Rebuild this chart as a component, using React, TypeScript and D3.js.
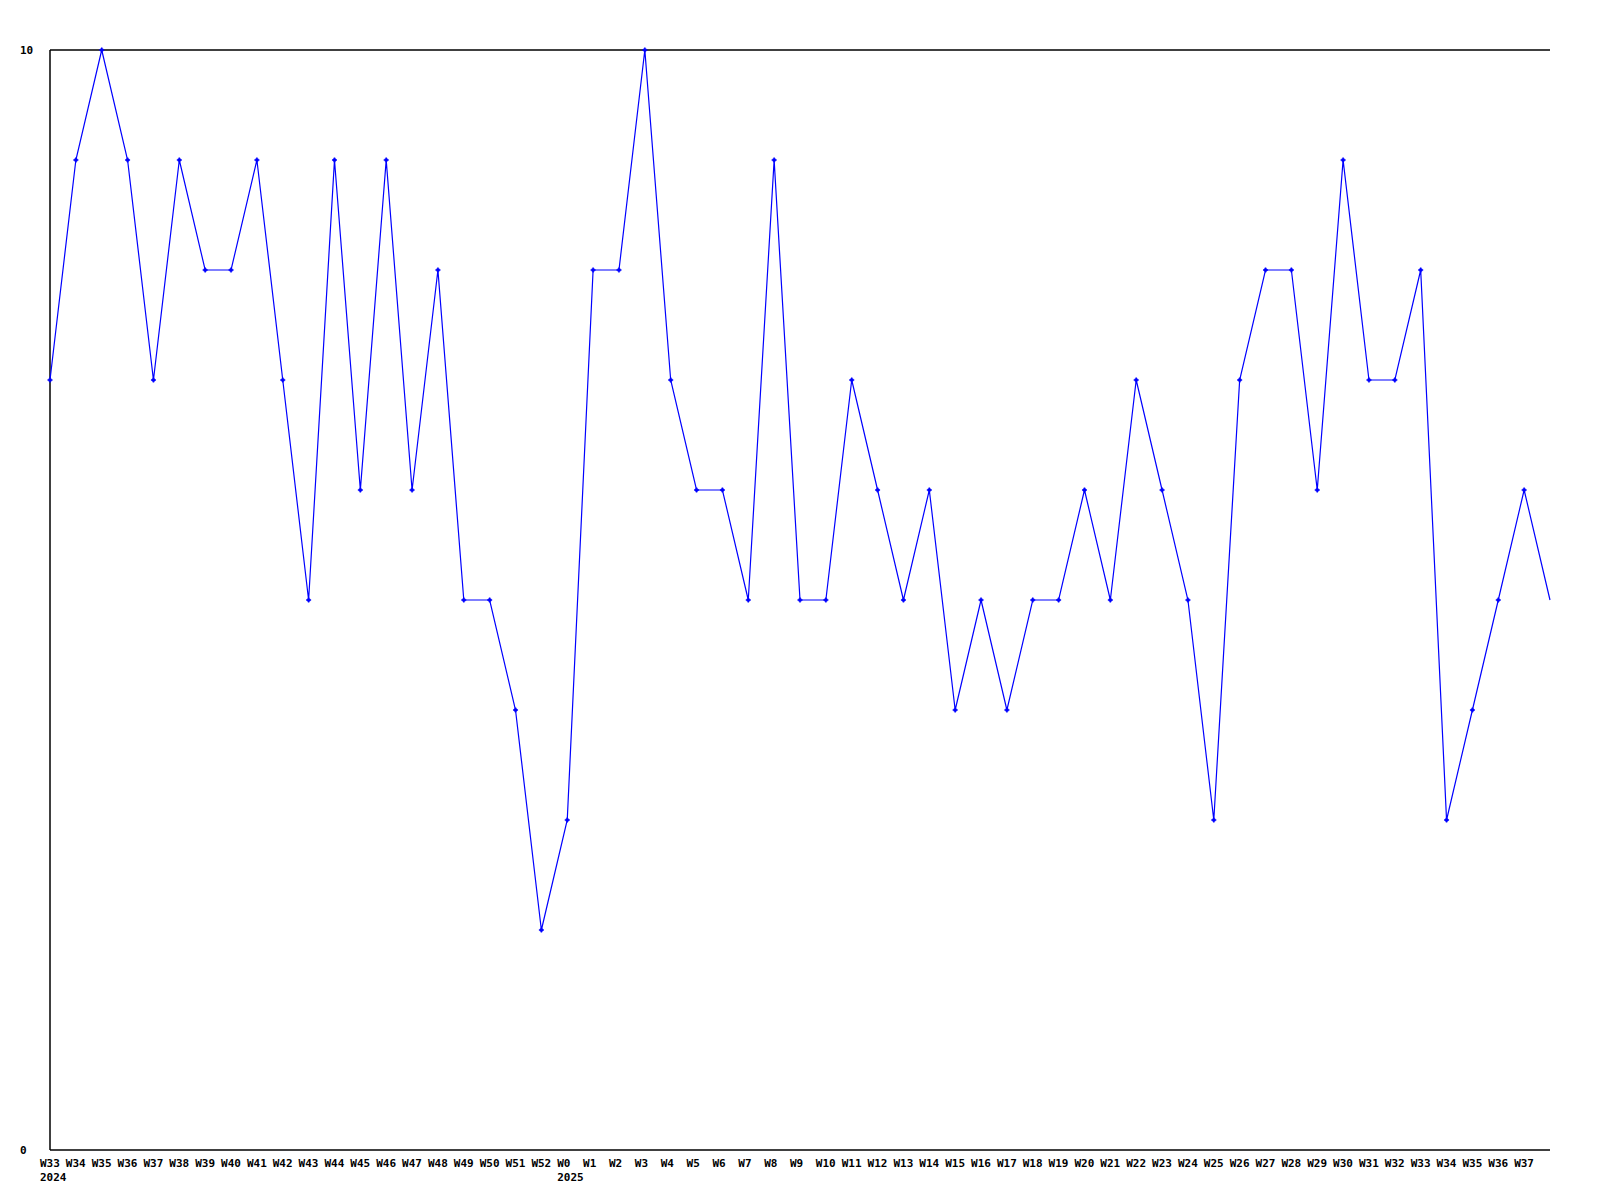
import React from "react";
import * as d3 from "d3";

const weekLabels: string[] = [
  "W33","W34","W35","W36","W37","W38","W39","W40","W41","W42","W43","W44","W45","W46","W47","W48","W49","W50","W51","W52",
  "W0","W1","W2","W3","W4","W5","W6","W7","W8","W9","W10","W11","W12","W13","W14","W15","W16","W17","W18","W19",
  "W20","W21","W22","W23","W24","W25","W26","W27","W28","W29","W30","W31","W32","W33","W34","W35","W36","W37",
];
const yearLabels: { index: number; label: string }[] = [
  { index: 0, label: "2024" },
  { index: 20, label: "2025" },
];
// 58 labelled weeks plus one trailing point at the right edge
const values: number[] = [
  7, 9, 10, 9, 7, 9, 8, 8, 9, 7, 5, 9, 6, 9, 6, 8, 5, 5, 4, 2,
  3, 8, 8, 10, 7, 6, 6, 5, 9, 5, 5, 7, 6, 5, 6, 4, 5, 4, 5, 5,
  6, 5, 7, 6, 5, 3, 7, 8, 8, 6, 9, 7, 7, 8, 3, 4, 5, 6, 5,
];
const yTicks: number[] = [0, 10];

export default function App() {
  const W = 1600, H = 1200;
  const left = 50, right = 1550, top = 50, bottom = 1150;
  const x = d3.scaleLinear().domain([0, values.length - 1]).range([left, right]);
  const y = d3.scaleLinear().domain([0, 10]).range([bottom, top]);
  const line = d3.line<number>().x((_, i) => x(i)).y((d) => y(d));
  const font = "'DejaVu Sans Mono', monospace";
  return (
    <svg width={W} height={H} style={{ position: "absolute", left: 0, top: 0, background: "#fff" }}>
      <rect x={0} y={0} width={W} height={H} fill="#fff" />
      {/* frame */}
      <line x1={left} x2={right} y1={top} y2={top} stroke="#000" strokeWidth={1.5} />
      <line x1={left} x2={left} y1={top} y2={bottom} stroke="#000" strokeWidth={1.5} />
      <line x1={left} x2={right} y1={bottom} y2={bottom} stroke="#000" strokeWidth={1.5} />
      {yTicks.map((t) => (
        <text key={t} x={20} y={y(t)} dy="0.35em" fontFamily={font} fontWeight="bold" fontSize={11} fill="#000">
          {t}
        </text>
      ))}
      <path d={line(values) || ""} fill="none" stroke="#0000ff" strokeWidth={1.2} />
      {values.slice(0, weekLabels.length).map((v, i) => (
        <g key={i} transform={`translate(${x(i)},${y(v)})`}>
          <path d="M-2.5,0H2.5M0,-2.5V2.5" stroke="#0000ff" strokeWidth={1.5} />
          <rect x={-1.5} y={-1.5} width={3} height={3} fill="#0000ff" />
        </g>
      ))}
      {weekLabels.map((l, i) => (
        <text key={i} x={x(i) - 10} y={1163} dy="0.35em" fontFamily={font} fontWeight="bold" fontSize={11} fill="#000">
          {l}
        </text>
      ))}
      {yearLabels.map((yl) => (
        <text key={yl.label} x={x(yl.index) - 10} y={1177} dy="0.35em" fontFamily={font} fontWeight="bold" fontSize={11} fill="#000">
          {yl.label}
        </text>
      ))}
    </svg>
  );
}
